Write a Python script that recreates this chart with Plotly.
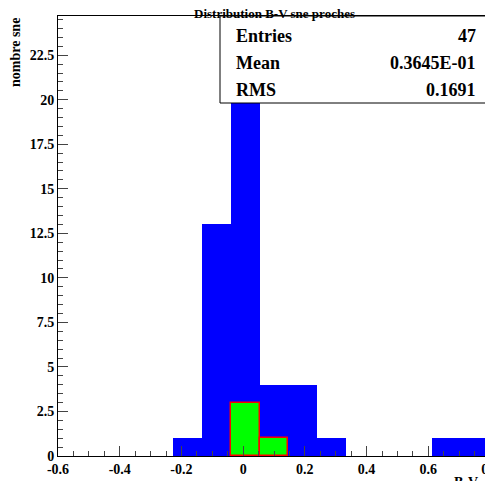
import numpy as np
import plotly.graph_objects as go

edges = list(np.linspace(-0.6, 0.8, 16))
blue_counts = [0, 0, 0, 0, 1, 13, 22, 4, 4, 1, 0, 0, 0, 1, 1]
green_counts = [0, 0, 0, 0, 0, 0, 3, 1, 0, 0, 0, 0, 0, 0, 0]
stats_labels = ["Entries", "Mean", "RMS"]
stats_values = ["47", "0.3645E-01", "0.1691"]
yticks = [0, 2.5, 5, 7.5, 10, 12.5, 15, 17.5, 20, 22.5]
xticks = [-0.6, -0.4, -0.2, 0, 0.2, 0.4, 0.6, 0.8]

w = edges[1] - edges[0]
centers = [(edges[i] + edges[i + 1]) / 2 for i in range(15)]
F = "Liberation Serif"
tf = dict(family=F, size=14, weight="bold")

fig = go.Figure()
fig.add_bar(x=centers, y=blue_counts, width=w, marker=dict(color="#0000ff", line=dict(width=0)))
fig.add_bar(x=[c for c, g in zip(centers, green_counts) if g], y=[g for g in green_counts if g],
            width=w, marker=dict(color="#00ff00", line=dict(color="#ff0000", width=1.5)))
fig.update_layout(
    width=493, height=481, barmode="overlay", bargap=0, showlegend=False,
    paper_bgcolor="white", plot_bgcolor="white",
    margin=dict(l=50, r=11, t=8, b=33, autoexpand=False),
    font=dict(family=F, color="black", size=14),
    xaxis=dict(range=[-0.6, 0.8], tickvals=xticks, ticktext=["-0.6", "-0.4", "-0.2", "0", "0.2", "0.4", "0.6", "0.8"],
               ticks="inside", ticklen=10, showgrid=False, zeroline=False, showline=True, mirror=True,
               linecolor="black", linewidth=1, tickfont=tf, automargin=False,
               minor=dict(dtick=0.05, ticks="inside", ticklen=5)),
    yaxis=dict(range=[0, 24.7], tickvals=yticks, ticks="inside", ticklen=10, showgrid=False, zeroline=False,
               showline=True, mirror=True, linecolor="black", linewidth=1, tickfont=tf, automargin=False,
               minor=dict(dtick=0.5, ticks="inside", ticklen=5)),
)
fig.add_annotation(text="<b>Distribution B-V sne proches</b>", xref="paper", yref="paper", x=0.5, y=1.0,
                   xanchor="center", yanchor="bottom", yshift=-7, showarrow=False, font=dict(size=13))
fig.add_annotation(text="<b>nombre sne</b>", xref="paper", yref="paper", x=0, y=1, xanchor="right", yanchor="top",
                   xshift=-33, textangle=-90, showarrow=False, font=dict(size=14))
fig.add_annotation(text="<b>B-V</b>", xref="paper", yref="paper", x=1, y=0, xanchor="right", yanchor="top",
                   yshift=-17, xshift=-10, showarrow=False, font=dict(size=14))
pw, ph = 432, 440
x0 = (212 - 50) / pw; x1 = (487 - 50) / pw
y1 = 1.0; y0 = 1 - (95 - 8) / ph
fig.add_shape(type="rect", xref="paper", yref="paper", x0=x0, x1=x1, y0=y0, y1=y1,
              line=dict(color="black", width=1), fillcolor="white", layer="above")
for i, (l, v) in enumerate(zip(stats_labels, stats_values)):
    yy = 1 - (28 + 27 * i - 8) / ph
    fig.add_annotation(text=f"<b>{l}</b>", xref="paper", yref="paper", x=(226 - 50) / pw, y=yy,
                       xanchor="left", yanchor="middle", showarrow=False, font=dict(size=18))
    fig.add_annotation(text=f"<b>{v}</b>", xref="paper", yref="paper", x=(470 - 50) / pw, y=yy,
                       xanchor="right", yanchor="middle", showarrow=False, font=dict(size=18))
fig.write_html("out.html")
